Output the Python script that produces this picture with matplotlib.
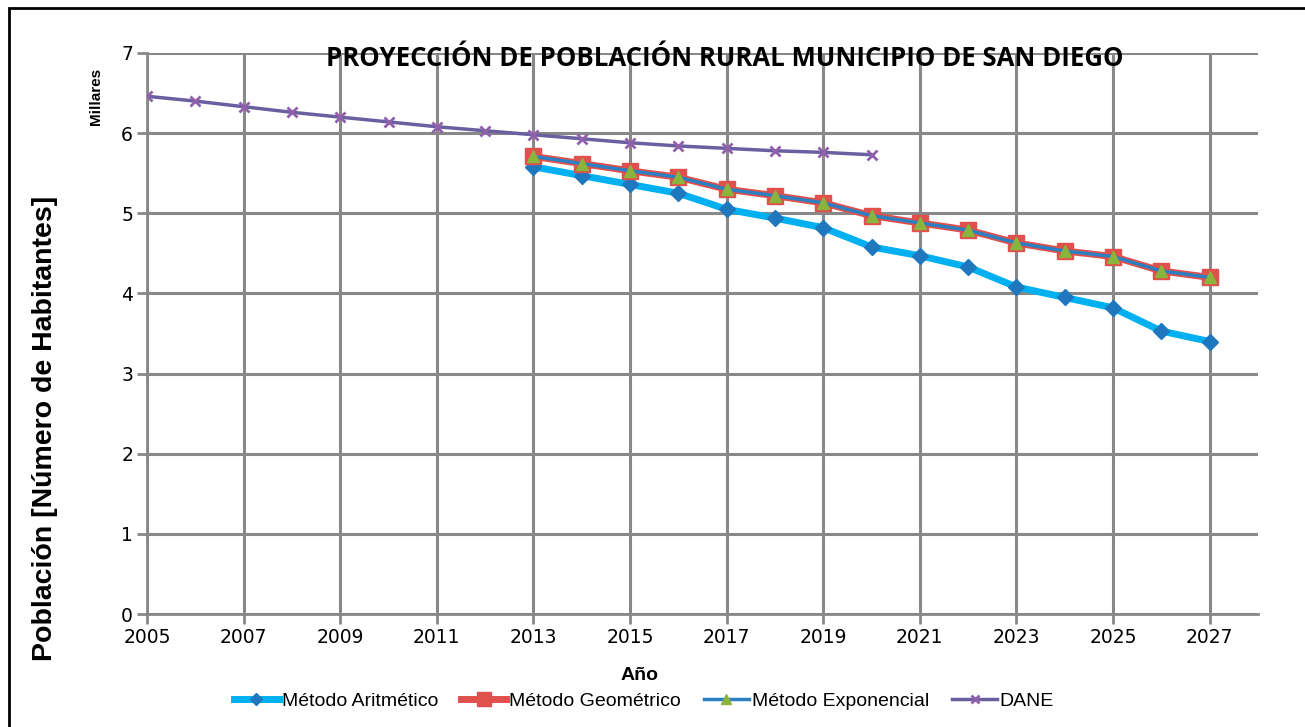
import matplotlib.pyplot as plt
from matplotlib.patches import Rectangle

years_dane = list(range(2005, 2021))
dane = [6.46, 6.40, 6.33, 6.26, 6.20, 6.14, 6.08, 6.03, 5.98, 5.93, 5.88, 5.84, 5.81, 5.78, 5.76, 5.73]

years_proj = list(range(2013, 2028))
aritmetico = [5.58, 5.47, 5.36, 5.25, 5.05, 4.94, 4.82, 4.58, 4.47, 4.33, 4.08, 3.95, 3.82, 3.53, 3.40]
geometrico = [5.71, 5.62, 5.53, 5.45, 5.30, 5.22, 5.13, 4.97, 4.88, 4.79, 4.63, 4.53, 4.46, 4.28, 4.20]
exponencial = [5.71, 5.62, 5.53, 5.45, 5.30, 5.22, 5.13, 4.97, 4.88, 4.79, 4.63, 4.53, 4.46, 4.28, 4.20]

xticks = list(range(2005, 2028, 2))
yticks = list(range(0, 8))

fig = plt.figure(figsize=(13.05, 7.27), dpi=100)
ax = fig.add_axes([147/1305, 1-614/727, (1258-147)/1305, (614-53)/727])

ax.plot(years_proj, aritmetico, color='#00B0F0', lw=5, marker='D', ms=8,
        mfc='#1F78BE', mec='#1F78BE', label='Método Aritmético', zorder=3)
ax.plot(years_proj, geometrico, color='#E0504D', lw=5, marker='s', ms=12,
        mfc='#E0504D', mec='#E0504D', label='Método Geométrico', zorder=4)
ax.plot(years_proj, exponencial, color='#2C7FC0', lw=2.5, marker='^', ms=9,
        mfc='#8BB43C', mec='#8BB43C', label='Método Exponencial', zorder=5)
ax.plot(years_dane, dane, color='#6A5FA0', lw=2.5, marker='x', ms=7, mew=2,
        mec='#9060AA', label='DANE', zorder=3)

ax.set_xlim(2005, 2028)
ax.set_ylim(0, 7)
ax.set_xticks(xticks)
ax.set_yticks(yticks)
ax.grid(True, color='#888888', lw=2.2)
ax.set_axisbelow(True)
for s in ['top', 'right']:
    ax.spines[s].set_visible(False)
for s in ['left', 'bottom']:
    ax.spines[s].set_color('#888888')
    ax.spines[s].set_linewidth(2)
ax.tick_params(axis='both', color='#888888', width=2, length=7, labelsize=13.5, pad=3)

fig.text(725/1305, 1-58/727, 'PROYECCIÓN DE POBLACIÓN RURAL MUNICIPIO DE SAN DIEGO',
         ha='center', va='center', fontsize=18.5, fontweight='bold', family='Open Sans')

fig.text(96/1305, 1-96/727, 'Millares', rotation=90, ha='center', va='center',
         fontsize=11, fontweight='bold', family='Liberation Sans')
fig.text(45/1305, 1-428/727, 'Población [Número de Habitantes]', rotation=90,
         ha='center', va='center', fontsize=20.5, fontweight='bold', family='Liberation Sans')
fig.text(640/1305, 1-675/727, 'Año', ha='center', va='center',
         fontsize=14, fontweight='bold', family='Liberation Sans')

leg = fig.legend(loc='center', bbox_to_anchor=(644/1305, 1-701/727), ncol=4,
                 frameon=False, prop={'family': 'Liberation Sans', 'size': 14},
                 handlelength=2.3, handletextpad=0.15, columnspacing=1.2, markerscale=0.8)

fig.patches.append(Rectangle((9/1305, -0.05), 1.1, 1-8/727+0.05, transform=fig.transFigure,
                             fill=False, ec='black', lw=2))

fig.savefig('out.png', dpi=100)
